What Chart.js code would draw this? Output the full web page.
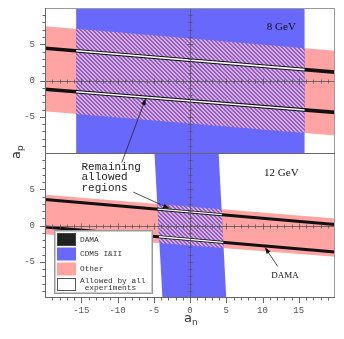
<!DOCTYPE html>
<html><head><meta charset="utf-8">
<script src="https://cdn.jsdelivr.net/npm/chart.js@4/dist/chart.umd.min.js"></script>
<style>html,body{margin:0;padding:0;background:#fff;overflow:hidden}#wrap{width:344px;height:339px;position:relative}</style>
</head><body><div id="wrap"><canvas id="c" width="344" height="339"></canvas></div>
<script>
// ---- data ----
const xRange = [-20, 20];           // a_n range
const yRange = [-10, 10];           // a_p range of each panel
const xTicks = [-15, -10, -5, 0, 5, 10, 15];
const yTicks = [-5, 0, 5];
const panelLabels = ['8 GeV', '12 GeV'];
const legendLabels = ['DAMA', 'CDMS I&II', 'Other', 'Allowed by all', ' experiments'];
// 8 GeV: a_p of band edges at a_n = -20 and a_n = +20
const other8Upper = [7.5, 4.1];
const other8Lower = [-4.25, -7.6];
const dama8Upper = [4.45, 1.15];
const dama8Lower = [-1.2, -4.4];
const cdms8Left = [-15.7, -15.7];   // a_n at a_p = +10 and a_p = -10
const cdms8Right = [15.8, 15.8];
// 12 GeV
const other12Upper = [4.25, 0.95];
const other12Lower = [-1.2, -4.3];
const dama12Upper = [3.6, 0.15];
const dama12Lower = [-0.2, -3.65];
const cdms12Left = [-4.9, -3.8];
const cdms12Right = [3.95, 5.0];

const BLUE = '#6868fc', PINK = '#ffa3a3';

function makeHatch() {
  const c = document.createElement('canvas'); c.width = 4; c.height = 4;
  const g = c.getContext('2d');
  for (let i = 0; i < 4; i++) for (let j = 0; j < 4; j++) {
    g.fillStyle = ((i - j + 8) % 4) < 2 ? PINK : BLUE;
    g.fillRect(i, j, 1, 1);
  }
  return g.createPattern(c, 'repeat');
}
const HATCH = makeHatch();

// geometry helpers: h = sloped band edge (a_p at a_n=-20,+20), v = CDMS edge (a_n at a_p=+10,-10)
function cross(h, v) {
  const a = (h[0] + h[1]) / 2, b = (h[1] - h[0]) / (xRange[1] - xRange[0]);
  const c = (v[0] + v[1]) / 2, d = -(v[1] - v[0]) / (yRange[1] - yRange[0]);
  const x = (c + d * a) / (1 - d * b);
  return {x, y: a + b * x};
}
const band = (u, l) => [{x: xRange[0], y: u[0]}, {x: xRange[1], y: u[1]}, {x: xRange[1], y: l[1]}, {x: xRange[0], y: l[0]}];
const vband = (L, R) => [{x: L[0], y: yRange[1]}, {x: R[0], y: yRange[1]}, {x: R[1], y: yRange[0]}, {x: L[1], y: yRange[0]}];
const quad = (u, l, L, R) => [cross(u, L), cross(u, R), cross(l, R), cross(l, L)];
const seg = (h) => [{x: xRange[0], y: h[0]}, {x: xRange[1], y: h[1]}];
const inner = (h, L, R) => [cross(h, L), cross(h, R)];

function area(data, color, yAxisID, order) {
  return {data, yAxisID, backgroundColor: color, borderColor: 'rgba(0,0,0,0)', borderWidth: 0, fill: 'shape', pointRadius: 0, order};
}
function line(data, color, width, yAxisID, order) {
  return {data, yAxisID, borderColor: color, borderWidth: width, fill: false, pointRadius: 0, order, borderCapStyle: 'butt'};
}

const datasets = [
  area(band(other8Upper, other8Lower), PINK, 'yTop', 10),
  area(vband(cdms8Left, cdms8Right), BLUE, 'yTop', 9),
  area(quad(other8Upper, other8Lower, cdms8Left, cdms8Right), HATCH, 'yTop', 8),
  line(seg(dama8Upper), '#111', 3.6, 'yTop', 7),
  line(seg(dama8Lower), '#111', 3.6, 'yTop', 7),
  line(inner(dama8Upper, cdms8Left, cdms8Right), '#fff', 1.6, 'yTop', 6),
  line(inner(dama8Lower, cdms8Left, cdms8Right), '#fff', 1.6, 'yTop', 6),
  area(band(other12Upper, other12Lower), PINK, 'yBot', 10),
  area(vband(cdms12Left, cdms12Right), BLUE, 'yBot', 9),
  area(quad(other12Upper, other12Lower, cdms12Left, cdms12Right), HATCH, 'yBot', 8),
  line(seg(dama12Upper), '#111', 3, 'yBot', 7),
  line(seg(dama12Lower), '#111', 3, 'yBot', 7),
  line(inner(dama12Upper, cdms12Left, cdms12Right), '#fff', 1.4, 'yBot', 6),
  line(inner(dama12Lower, cdms12Left, cdms12Right), '#fff', 1.4, 'yBot', 6)
];

const MONO = '"Liberation Mono", "DejaVu Sans Mono", monospace';
const SERIF = '"Liberation Serif", "DejaVu Serif", serif';

function yScale(weight) {
  return {
    type: 'linear', position: 'left', stack: 'panels', stackWeight: 1, weight,
    min: yRange[0], max: yRange[1],
    afterBuildTicks: s => { s.ticks = yTicks.map(v => ({value: v})); },
    afterFit: s => { s.width = 45; s.paddingTop = 0; s.paddingBottom = 0; },
    grid: {display: false, drawTicks: false, tickLength: 0},
    border: {display: false},
    ticks: {font: {family: MONO, size: 9}, color: '#555', padding: 10, callback: v => String(v)}
  };
}

function arrow(ctx, x1, y1, x2, y2) {
  const ang = Math.atan2(y2 - y1, x2 - x1), L = 7, W = 2.3;
  ctx.beginPath(); ctx.moveTo(x1, y1); ctx.lineTo(x2 - Math.cos(ang) * L * 0.8, y2 - Math.sin(ang) * L * 0.8); ctx.stroke();
  ctx.beginPath();
  ctx.moveTo(x2, y2);
  ctx.lineTo(x2 - Math.cos(ang) * L - Math.sin(ang) * W, y2 - Math.sin(ang) * L + Math.cos(ang) * W);
  ctx.lineTo(x2 - Math.cos(ang) * L + Math.sin(ang) * W, y2 - Math.sin(ang) * L - Math.cos(ang) * W);
  ctx.closePath(); ctx.fill();
}

const decor = {
  id: 'decor',
  afterDatasetsDraw(chart) {
    const ctx = chart.ctx, X = chart.scales.x, YT = chart.scales.yTop, YB = chart.scales.yBot, ca = chart.chartArea;
    ctx.save();
    // origin axes with ticks
    for (const Y of [YT, YB]) {
      const y0 = Math.round(Y.getPixelForValue(0)) + 0.5, x0 = Math.round(X.getPixelForValue(0)) + 0.5;
      ctx.strokeStyle = '#555'; ctx.lineWidth = 0.8;
      ctx.beginPath();
      ctx.moveTo(ca.left, y0); ctx.lineTo(ca.right, y0);
      ctx.moveTo(x0, Y.top); ctx.lineTo(x0, Y.bottom);
      for (let v = xRange[0] + 1; v < xRange[1]; v++) {
        const px = Math.round(X.getPixelForValue(v)) + 0.5, l = v % 5 === 0 ? 3 : 2;
        ctx.moveTo(px, y0 - l); ctx.lineTo(px, y0 + l);
      }
      for (let v = yRange[0] + 1; v < yRange[1]; v++) {
        const py = Math.round(Y.getPixelForValue(v)) + 0.5, l = v % 5 === 0 ? 3 : 2;
        ctx.moveTo(x0 - l, py); ctx.lineTo(x0 + l, py);
      }
      ctx.stroke();
      // outward ticks on the left axis
      ctx.strokeStyle = '#666'; ctx.lineWidth = 1;
      ctx.beginPath();
      for (let v = yRange[0] + 1; v < yRange[1]; v++) {
        const py = Math.round(Y.getPixelForValue(v)) + 0.5, l = v % 5 === 0 ? 5 : 2.5;
        ctx.moveTo(ca.left - l, py); ctx.lineTo(ca.left, py);
      }
      ctx.stroke();
    }
    // bottom axis ticks
    ctx.beginPath();
    for (let v = xRange[0] + 1; v < xRange[1]; v++) {
      const px = Math.round(X.getPixelForValue(v)) + 0.5, l = v % 5 === 0 ? 5 : 2.5;
      ctx.moveTo(px, ca.bottom); ctx.lineTo(px, ca.bottom + l);
    }
    ctx.stroke();
    // frame
    ctx.strokeStyle = '#999'; ctx.lineWidth = 1;
    ctx.strokeRect(Math.round(ca.left) + 0.5, Math.round(ca.top) + 0.5, Math.round(ca.right - ca.left) - 1, Math.round(ca.bottom - ca.top) - 1);
    ctx.strokeStyle = '#666';
    ctx.beginPath();
    ctx.moveTo(Math.round(ca.left) + 0.5, ca.top); ctx.lineTo(Math.round(ca.left) + 0.5, ca.bottom);
    ctx.moveTo(ca.left, Math.round(YT.bottom) + 0.5); ctx.lineTo(ca.right, Math.round(YT.bottom) + 0.5);
    ctx.moveTo(ca.left, Math.round(ca.bottom) - 0.5); ctx.lineTo(ca.right, Math.round(ca.bottom) - 0.5);
    ctx.stroke();

    // axis titles
    ctx.fillStyle = '#333';
    const xc = (ca.left + ca.right) / 2;
    ctx.font = '13px "DejaVu Sans", sans-serif'; ctx.textBaseline = 'alphabetic'; ctx.textAlign = 'left';
    ctx.fillText('a', xc - 6, 322);
    ctx.font = '9px "DejaVu Sans", sans-serif';
    ctx.fillText('n', xc + 2, 325);
    ctx.save();
    ctx.translate(20, 153); ctx.rotate(-Math.PI / 2);
    ctx.font = '13px "DejaVu Sans", sans-serif';
    ctx.fillText('a', -6, 0);
    ctx.font = '9px "DejaVu Sans", sans-serif';
    ctx.fillText('p', 2, 3);
    ctx.restore();

    // panel labels
    ctx.fillStyle = '#111'; ctx.textAlign = 'center'; ctx.textBaseline = 'alphabetic';
    ctx.font = '11px ' + SERIF;
    ctx.fillText(panelLabels[0], X.getPixelForValue(12.6), YT.getPixelForValue(6.9));
    ctx.fillText(panelLabels[1], X.getPixelForValue(12.6), YB.getPixelForValue(6.8));
    ctx.font = '9px ' + SERIF;
    ctx.fillText('DAMA', X.getPixelForValue(13.1), YB.getPixelForValue(-7.3));

    // "Remaining allowed regions"
    ctx.textAlign = 'left'; ctx.font = '11px ' + MONO; ctx.fillStyle = '#222';
    const tx = 81.5;
    ctx.fillText('Remaining', tx, 169.5);
    ctx.fillText('allowed', tx, 180.2);
    ctx.fillText('regions', tx, 190.9);

    // arrows
    ctx.strokeStyle = '#222'; ctx.fillStyle = '#111'; ctx.lineWidth = 0.8;
    arrow(ctx, X.getPixelForValue(-9.4), YB.getPixelForValue(8.7), X.getPixelForValue(-6.1), YT.getPixelForValue(-2.45));
    arrow(ctx, X.getPixelForValue(-7.8), YB.getPixelForValue(4.6), X.getPixelForValue(-2.75), YB.getPixelForValue(2.3));
    arrow(ctx, X.getPixelForValue(12.1), YB.getPixelForValue(-5.65), X.getPixelForValue(10.3), YB.getPixelForValue(-2.95));

    // legend
    const lx = 54.5, ly = 230.5, lw = 98, lh = 63;
    ctx.fillStyle = '#fff'; ctx.fillRect(lx, ly, lw, lh);
    ctx.strokeStyle = '#999'; ctx.lineWidth = 1; ctx.strokeRect(lx, ly, lw, lh);
    ctx.strokeStyle = '#ccc'; ctx.strokeRect(lx + 1, ly + 1, lw - 2, lh - 2);
    const sw = [['#222', '#444'], [BLUE, BLUE], [PINK, PINK], ['#fff', '#555']];
    const rows = [233.5, 248, 263, 278.5];
    sw.forEach((s, i) => {
      ctx.fillStyle = s[0]; ctx.fillRect(57.5, rows[i], 18, 12);
      ctx.strokeStyle = s[1]; ctx.strokeRect(57.5, rows[i], 18, 12);
    });
    ctx.fillStyle = '#333'; ctx.font = '7.8px ' + MONO; ctx.textBaseline = 'middle';
    ctx.fillText(legendLabels[0], 80, 239.5);
    ctx.fillText(legendLabels[1], 80, 254);
    ctx.fillText(legendLabels[2], 80, 269);
    ctx.fillText(legendLabels[3], 80, 280.5);
    ctx.fillText(legendLabels[4], 80, 288);
    ctx.restore();
  }
};

new Chart(document.getElementById('c'), {
  type: 'line',
  data: {datasets},
  options: {
    responsive: false, animation: false, devicePixelRatio: 1,
    layout: {padding: {top: 8, right: 9, left: 0, bottom: 0}},
    plugins: {legend: {display: false}, tooltip: {enabled: false}},
    elements: {line: {tension: 0}},
    scales: {
      x: {
        type: 'linear', min: xRange[0], max: xRange[1],
        afterBuildTicks: s => { s.ticks = xTicks.map(v => ({value: v})); },
        afterFit: s => { s.height = 41; s.paddingLeft = 0; s.paddingRight = 0; },
        grid: {display: false, drawTicks: false, tickLength: 0},
        border: {display: false},
        ticks: {font: {family: MONO, size: 9}, color: '#555', padding: 7, maxRotation: 0, autoSkip: false, callback: v => String(v)}
      },
      yTop: yScale(2),
      yBot: yScale(1)
    }
  },
  plugins: [decor]
});
</script></body></html>
